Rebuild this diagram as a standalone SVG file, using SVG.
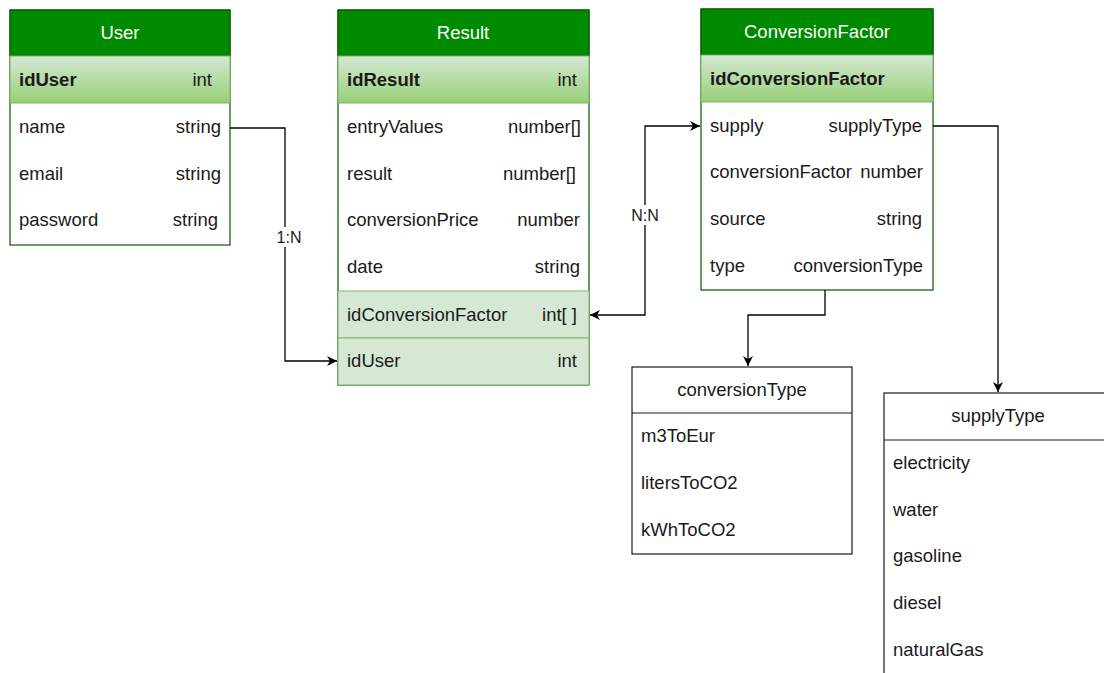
<svg xmlns="http://www.w3.org/2000/svg" width="1104" height="673" viewBox="0 0 1104 673">
<style>
text{font-family:"Liberation Sans",Arial,sans-serif;font-size:18.5px;fill:#1a1a1a}
.hd{fill:#008a00;stroke:#005700;stroke-width:1}
.ht{fill:#ffffff;text-anchor:middle}
.pk{fill:url(#g);stroke:#82b366;stroke-width:1}
.fk{fill:#d5e8d4;stroke:#82b366;stroke-width:1}
.body{fill:#ffffff;stroke:#005700;stroke-width:1.2}
.b{font-weight:bold}
.r{text-anchor:end}
.en{fill:#ffffff;stroke:#1a1a1a;stroke-width:1.2}
.c{fill:none;stroke:#000;stroke-width:1.3}
.lbl{text-anchor:middle;font-size:16px}
</style>
<defs>
<linearGradient id="g" x1="0" y1="0" x2="0" y2="1"><stop offset="0" stop-color="#d5e8d4"/><stop offset="1" stop-color="#97d077"/></linearGradient>
<marker id="a" viewBox="0 0 10 10" refX="10" refY="5" markerWidth="10" markerHeight="10" markerUnits="userSpaceOnUse" orient="auto-start-reverse"><path d="M0,0 L10,5 L0,10 L3,5 z" fill="#000"/></marker>
</defs>
<g id="User">
<rect class="body" x="10" y="10" width="220" height="235"/>
<rect class="hd" x="10" y="10" width="220" height="46"/>
<text class="ht" x="120" y="39">User</text>
<rect class="pk" x="10" y="56" width="220" height="47"/>
<text class="b" x="19" y="86">idUser</text><text class="r" x="212" y="86">int</text>
<text x="19" y="133">name</text><text class="r" x="221" y="133">string</text>
<text x="19" y="180">email</text><text class="r" x="221" y="180">string</text>
<text x="19" y="226">password</text><text class="r" x="218" y="226">string</text>
</g>
<g id="Result">
<rect class="body" x="338" y="10" width="251" height="375"/>
<rect class="hd" x="338" y="10" width="251" height="46"/>
<text class="ht" x="463" y="39">Result</text>
<rect class="pk" x="338" y="56" width="251" height="47"/>
<text class="b" x="347" y="86">idResult</text><text class="r" x="577" y="86">int</text>
<text x="347" y="133">entryValues</text><text class="r" x="581" y="133">number[]</text>
<text x="347" y="180">result</text><text class="r" x="576" y="180">number[]</text>
<text x="347" y="226">conversionPrice</text><text class="r" x="580" y="226">number</text>
<text x="347" y="273">date</text><text class="r" x="580" y="273">string</text>
<rect class="fk" x="338" y="291" width="251" height="47"/>
<text x="347" y="321">idConversionFactor</text><text class="r" x="577" y="321">int[ ]</text>
<rect class="fk" x="338" y="338" width="251" height="47"/>
<text x="347" y="367">idUser</text><text class="r" x="577" y="367">int</text>
</g>
<g id="ConversionFactor">
<rect class="body" x="701" y="9" width="232" height="281"/>
<rect class="hd" x="701" y="9" width="232" height="46"/>
<text class="ht" x="817" y="38">ConversionFactor</text>
<rect class="pk" x="701" y="55" width="232" height="47"/>
<text class="b" x="710" y="85">idConversionFactor</text>
<text x="710" y="132">supply</text><text class="r" x="922" y="132">supplyType</text>
<text x="710" y="178">conversionFactor</text><text class="r" x="923" y="178">number</text>
<text x="710" y="225">source</text><text class="r" x="922" y="225">string</text>
<text x="710" y="272">type</text><text class="r" x="923" y="272">conversionType</text>
</g>
<g id="conversionType">
<rect class="en" x="632" y="367" width="220" height="187"/>
<line x1="632" y1="413" x2="852" y2="413" stroke="#1a1a1a" stroke-width="1.2"/>
<text x="742" y="396" text-anchor="middle">conversionType</text>
<text x="641" y="442">m3ToEur</text>
<text x="641" y="489">litersToCO2</text>
<text x="641" y="536">kWhToCO2</text>
</g>
<g id="supplyType">
<rect class="en" x="884" y="393" width="230" height="300"/>
<line x1="884" y1="440" x2="1104" y2="440" stroke="#1a1a1a" stroke-width="1.2"/>
<text x="998" y="422" text-anchor="middle">supplyType</text>
<text x="893" y="469">electricity</text>
<text x="893" y="516">water</text>
<text x="893" y="562">gasoline</text>
<text x="893" y="609">diesel</text>
<text x="893" y="656">naturalGas</text>
</g>
<g id="connectors">
<path class="c" d="M230,128 H285 V361 H337" marker-end="url(#a)"/>
<rect x="273" y="227" width="32" height="20" fill="#fff"/>
<text class="lbl" x="289" y="243">1:N</text>
<path class="c" d="M590,315 H645 V126 H700" marker-start="url(#a)" marker-end="url(#a)"/>
<rect x="628" y="205" width="34" height="20" fill="#fff"/>
<text class="lbl" x="645" y="221">N:N</text>
<path class="c" d="M825,290 V315 H748 V366" marker-end="url(#a)"/>
<path class="c" d="M933,126 H998 V392" marker-end="url(#a)"/>
</g>
</svg>
